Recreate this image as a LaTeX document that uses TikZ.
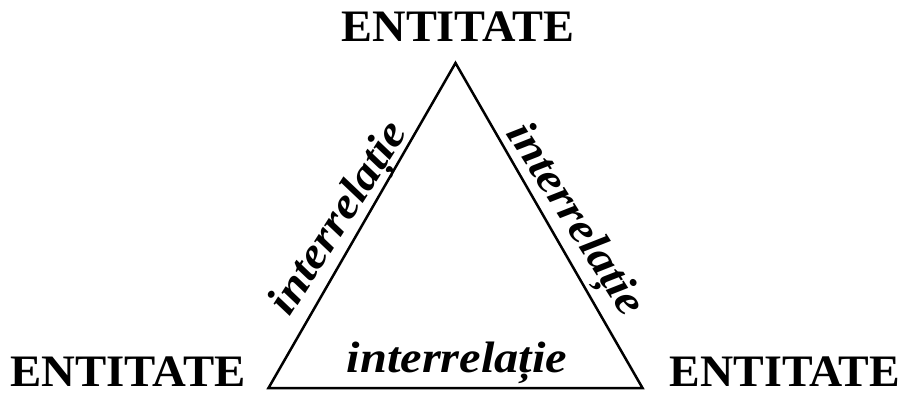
\documentclass[tikz,border=0pt]{standalone}
\usepackage{fontspec}
\setmainfont{Liberation Serif}
\begin{document}
\begin{tikzpicture}[x=1pt,y=1pt,
  ent/.style={font=\bfseries\fontsize{45}{45}\selectfont, inner sep=0pt, anchor=base},
  rel/.style={font=\bfseries\itshape\fontsize{44}{44}\selectfont, inner sep=0pt, anchor=base},
  edge/.style={line width=2.5pt, line join=miter}]
\useasboundingbox (0,0) rectangle (908,392);
\coordinate (A) at (455.5,329);
\coordinate (BL) at (268.5,4);
\coordinate (BR) at (642.5,4);
\draw[edge] (A) -- (BL) -- (BR) -- cycle;
\node[ent] (top) at (458,350) {\scalebox{1.03}[1]{ENTITATE}};
\node[ent] (left) at (128,6) {\scalebox{1.04}[1]{ENTITATE}};
\node[ent] (right) at (785,6) {\scalebox{1.02}[1]{ENTITATE}};
\node[rel, rotate=57.5] (lrel) at (349,167) {\scalebox{1.1}[1]{interrelație}};
\node[rel, rotate=-57.5] (rrel) at (565,166) {\scalebox{1.1}[1]{interrelație}};
\node[rel] (brel) at (457,20) {\scalebox{1.1}[1]{interrelație}};
\end{tikzpicture}
\end{document}
